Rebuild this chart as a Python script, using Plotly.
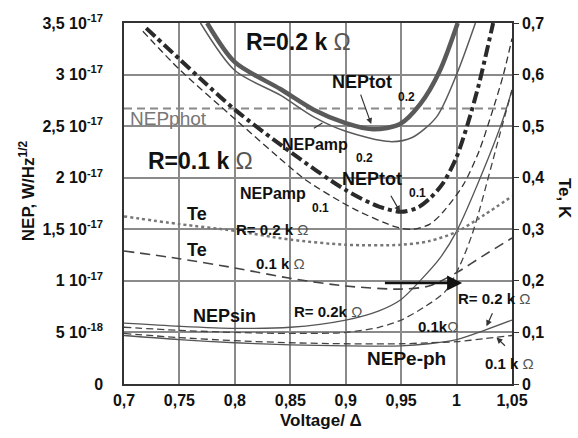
import plotly.graph_objects as go

# ---------------- data (NEP in units of 1e-17 W/Hz^1/2, Te in K) ----------------
x_tot02 = [0.775, 0.8, 0.841, 0.871, 0.9, 0.925, 0.949, 0.967, 0.985, 1.001]
nep_tot02 = [3.5, 3.12, 2.86, 2.66, 2.53, 2.47, 2.52, 2.71, 3.04, 3.5]

x_amp02 = [0.769, 0.8, 0.841, 0.871, 0.9, 0.94, 0.96, 0.982, 1.0, 1.017]
nep_amp02 = [3.5, 3.04, 2.8, 2.59, 2.45, 2.35, 2.39, 2.59, 3.0, 3.5]

x_tot01 = [0.72, 0.75, 0.77, 0.8, 0.85, 0.9, 0.93, 0.95, 0.965, 0.976, 0.988, 1.0, 1.01, 1.02, 1.033]
nep_tot01 = [3.45, 3.15, 2.95, 2.66, 2.25, 1.88, 1.72, 1.67, 1.71, 1.8, 1.95, 2.2, 2.52, 2.9, 3.5]

x_amp01 = [0.717, 0.75, 0.8, 0.85, 0.865, 0.907, 0.946, 0.96, 0.976, 0.988, 1.006, 1.02, 1.031, 1.042, 1.05]
nep_amp01 = [3.42, 3.05, 2.57, 2.1, 1.97, 1.7, 1.52, 1.5, 1.55, 1.67, 1.93, 2.25, 2.6, 2.99, 3.35]

x_phot = [0.7, 1.045]
nep_phot = [2.67, 2.67]

x_sin02 = [0.7, 0.75, 0.8, 0.85, 0.9, 0.93, 0.95, 0.967, 0.985, 1.0, 1.021, 1.041, 1.05]
nep_sin02 = [0.59, 0.56, 0.54, 0.55, 0.62, 0.71, 0.82, 1.0, 1.22, 1.48, 1.99, 2.54, 2.85]

x_sin01 = [0.7, 0.75, 0.8, 0.85, 0.9, 0.93, 0.95, 0.97, 0.99, 1.003, 1.014, 1.021, 1.039, 1.05]
nep_sin01 = [0.55, 0.52, 0.5, 0.49, 0.5, 0.55, 0.62, 0.74, 0.9, 1.15, 1.45, 1.7, 2.42, 2.85]

x_eph = [0.7, 0.75, 0.8, 0.85, 0.9, 0.95, 0.975, 1.0, 1.025, 1.05]
nep_eph02 = [0.47, 0.43, 0.4, 0.38, 0.37, 0.37, 0.39, 0.43, 0.52, 0.62]
nep_eph01 = [0.49, 0.45, 0.42, 0.4, 0.39, 0.39, 0.4, 0.41, 0.44, 0.47]

x_te = [0.7, 0.75, 0.8, 0.85, 0.9, 0.95, 0.975, 1.0, 1.025, 1.05]
te_02 = [0.325, 0.31, 0.297, 0.28, 0.27, 0.27, 0.277, 0.295, 0.328, 0.364]
te_01 = [0.258, 0.243, 0.225, 0.205, 0.19, 0.184, 0.19, 0.216, 0.25, 0.283]

x_ticks = [0.7, 0.75, 0.8, 0.85, 0.9, 0.95, 1.0, 1.05]
x_ticklabels = ["0,7", "0,75", "0,8", "0,85", "0,9", "0,95", "1", "1,05"]
y_ticks = [0, 0.5, 1, 1.5, 2, 2.5, 3, 3.5]
y_mant = ["0", "5 10", "1 10", "1,5 10", "2 10", "2,5 10", "3 10", "3,5 10"]
y_exp = ["", "-18", "-17", "-17", "-17", "-17", "-17", "-17"]
y2_ticks = [0, 0.1, 0.2, 0.3, 0.4, 0.5, 0.6, 0.7]
y2_ticklabels = ["0", "0,1", "0,2", "0,3", "0,4", "0,5", "0,6", "0,7"]

FONT = "Liberation Sans, Arial, sans-serif"
OM = "<span style='font-weight:normal;color:#555'>Ω</span>"

fig = go.Figure()

def add(x, y, color, width, dash="solid", yaxis="y"):
    fig.add_trace(go.Scatter(x=x, y=y, mode="lines", yaxis=yaxis,
                             line=dict(color=color, width=width, dash=dash, shape="spline", smoothing=0.8),
                             showlegend=False, hoverinfo="skip"))

add(x_phot, nep_phot, "#8a8a8a", 2, "8px,5px")
add(x_eph, nep_eph02, "#555", 1.3)
add(x_eph, nep_eph01, "#444", 1.3, "7px,4px")
add(x_sin02, nep_sin02, "#555", 1.3)
add(x_sin01, nep_sin01, "#444", 1.3, "7px,4px")
add(x_amp02, nep_amp02, "#5a5a5a", 1.5)
add(x_tot02, nep_tot02, "#5a5a5a", 4.5)
add(x_amp01, nep_amp01, "#333", 1.3, "7px,4px")
add(x_tot01, nep_tot01, "#2a2a2a", 4, "12px,4px,4px,4px")
add(x_te, te_02, "#777", 2.5, "dot", "y2")
add(x_te, te_01, "#444", 1.6, "10px,6px", "y2")

def lab(x, y, text, size, color="#111", xanchor="center", bold=True):
    t = f"<b>{text}</b>" if bold else text
    fig.add_annotation(x=x, y=y, xref="x", yref="y", text=t, showarrow=False,
                       xanchor=xanchor, yanchor="middle",
                       font=dict(family=FONT, size=size, color=color))

def arrow(x0, y0, x1, y1, width=1.2, head=2, color="#333", size=1):
    fig.add_annotation(x=x1, y=y1, ax=x0, ay=y0, xref="x", yref="y", axref="x", ayref="y",
                       text="", showarrow=True, arrowhead=head, arrowsize=size,
                       arrowwidth=width, arrowcolor=color)

lab(0.857, 3.317, "R=0.2 k " + OM, 23)
lab(0.769, 2.16, "R=0.1 k " + OM, 23)
lab(0.7036, 2.575, "NEPphot", 19, color="#777", xanchor="left", bold=False)
lab(0.915, 2.93, "NEPtot", 18)
lab(0.955, 2.78, "0.2", 12)
arrow(0.913, 2.82, 0.923, 2.52)
lab(0.872, 2.32, "NEPamp", 16)
lab(0.917, 2.19, "0.2", 12)
arrow(0.870, 2.47, 0.879, 2.53, head=0)
lab(0.924, 1.99, "NEPtot", 18)
lab(0.965, 1.85, "0.1", 12)
arrow(0.940, 1.84, 0.949, 1.67)
lab(0.834, 1.85, "NEPamp", 16)
lab(0.877, 1.71, "0.1", 12)
lab(0.766, 1.65, "Te", 18)
lab(0.834, 1.50, "R= 0.2 k " + OM, 15)
lab(0.766, 1.30, "Te", 18)
lab(0.841, 1.17, "0.1 k " + OM, 15)
lab(0.791, 0.66, "NEPsin", 18)
lab(0.884, 0.70, "R= 0.2k " + OM, 15)
lab(0.983, 0.56, "0.1k" + OM, 15)
lab(0.9995, 0.83, "R= 0.2 k " + OM, 15, xanchor="left")
arrow(1.033, 0.70, 1.027, 0.56)
lab(0.955, 0.25, "NEPe-ph", 19)
lab(1.024, 0.20, "0.1 k " + OM, 15, xanchor="left")
arrow(1.045, 0.357, 1.036, 0.45)
arrow(0.934, 0.98, 1.005, 0.98, width=2.5, head=2, color="#111", size=1.2)

# axis titles
fig.add_annotation(x=-0.25, y=0.534, xref="paper", yref="paper", showarrow=False,
                   xanchor="center", yanchor="middle",
                   text="<b>NEP, W/Hz<sup>1/2</sup></b>", textangle=-90,
                   font=dict(family=FONT, size=17, color="#111"))
fig.add_annotation(x=1.137, y=0.515, xref="paper", yref="paper", showarrow=False,
                   xanchor="center", yanchor="middle",
                   text="<b>Te, K</b>", textangle=90,
                   font=dict(family=FONT, size=17, color="#111"))
fig.add_annotation(x=0.508, y=-0.102, xref="paper", yref="paper", showarrow=False,
                   xanchor="center", yanchor="middle",
                   text="<b>Voltage/ Δ</b>", font=dict(family=FONT, size=17, color="#111"))

tickfont = dict(family=FONT, size=16, color="#111")
fig.update_layout(
    width=578, height=438, autosize=False,
    margin=dict(l=124, r=66, t=21, b=54),
    paper_bgcolor="white", plot_bgcolor="white",
    xaxis=dict(range=[0.7, 1.05], tickvals=x_ticks,
               ticktext=[f"<b>{t}</b>" for t in x_ticklabels],
               tickfont=tickfont, showgrid=True, gridcolor="#8a8a8a", gridwidth=1.5,
               showline=True, linecolor="#333", linewidth=1.5, mirror=True,
               ticks="", ticklabelstandoff=1, zeroline=False),
    yaxis=dict(range=[0, 3.5], tickvals=y_ticks,
               ticktext=[f"<b>{m}<sup>{e}</sup></b>" if e else f"<b>{m}</b>" for m, e in zip(y_mant, y_exp)],
               tickfont=tickfont, showgrid=True, gridcolor="#8a8a8a", gridwidth=1.5,
               showline=True, linecolor="#333", linewidth=1.5, mirror=True,
               ticks="", ticklabelstandoff=16, zeroline=False),
    yaxis2=dict(range=[0, 0.7], overlaying="y", side="right", tickvals=y2_ticks,
                ticktext=[f"<b>{t}</b>" for t in y2_ticklabels],
                tickfont=tickfont, showgrid=False, showline=True, linecolor="#333",
                linewidth=1.5, ticks="outside", ticklen=5, tickcolor="#333", zeroline=False),
)

fig.write_html("out.html")
